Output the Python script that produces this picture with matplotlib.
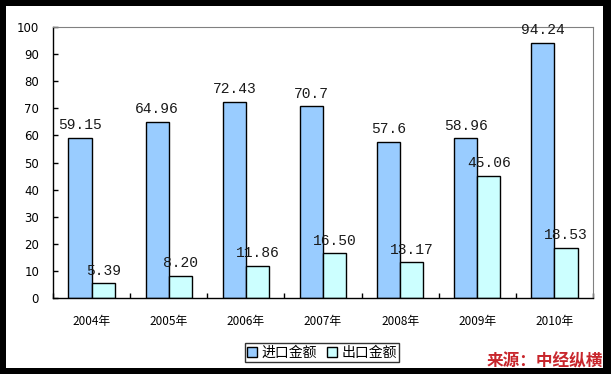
import matplotlib
matplotlib.use('Agg')
import matplotlib.pyplot as plt
from matplotlib.patches import Rectangle
import numpy as np

plt.rcParams['font.family'] = ['Noto Sans CJK SC', 'DejaVu Sans']

# ── Data ─────────────────────────────────────────────────────────────────────
years   = ['2004年', '2005年', '2006年', '2007年', '2008年', '2009年', '2010年']
imports = [59.15, 64.96, 72.43, 70.7, 57.6, 58.96, 94.24]
exports = [5.39, 8.20, 11.86, 16.50, 13.17, 45.06, 18.53]
imp_lbl = ['59.15', '64.96', '72.43', '70.7', '57.6', '58.96', '94.24']
exp_lbl = ['5.39', '8.20', '11.86', '16.50', '13.17', '45.06', '18.53']
series  = ['进口金额', '出口金额']
colors  = ['#99CCFF', '#CCFFFF']

W, H = 611, 374
fig = plt.figure(figsize=(W / 100, H / 100), dpi=100, facecolor='black')
# white canvas inside the black frame
fig.add_artist(Rectangle((6 / W, 1 - 368 / H), (603 - 6) / W, (368 - 6) / H,
                         transform=fig.transFigure, facecolor='white',
                         edgecolor='none', zorder=0))

ax = fig.add_axes([53 / W, 1 - 298 / H, (593 - 53) / W, (298 - 27) / H])
ax.set_facecolor('white')

x = np.arange(len(years))
bw = 0.30
b1 = ax.bar(x - bw / 2, imports, bw, color=colors[0], edgecolor='black',
            linewidth=1.0, label=series[0], zorder=2)
b2 = ax.bar(x + bw / 2, exports, bw, color=colors[1], edgecolor='black',
            linewidth=1.0, label=series[1], zorder=2)

for bars, labs in ((b1, imp_lbl), (b2, exp_lbl)):
    for bar, lab in zip(bars, labs):
        ax.annotate(lab, xy=(bar.get_x() + bar.get_width() / 2, bar.get_height()),
                    xytext=(0, 4), textcoords='offset points',
                    ha='center', va='bottom', fontsize=10.5,
                    family=['Liberation Mono', 'DejaVu Sans Mono'],
                    color='#1a1a1a', zorder=3)

ax.set_xlim(-0.5, len(years) - 0.5)
ax.set_ylim(0, 100)
ax.set_yticks(np.arange(0, 101, 10))
ax.set_xticks(x)
ax.set_xticklabels(years, fontsize=8.5)
ax.set_xticks(np.arange(-0.5, len(years), 1), minor=True)
ax.tick_params(axis='x', which='major', length=0, pad=12)
ax.tick_params(axis='x', which='minor', direction='in', length=3.5, width=1)
ax.tick_params(axis='y', direction='in', length=3.5, width=1, pad=10,
               labelsize=8.5)
for lab in ax.get_yticklabels():
    lab.set_family(['DejaVu Sans'])

for side in ('top', 'right'):
    ax.spines[side].set_color('#808080')
for side in ('left', 'bottom'):
    ax.spines[side].set_color('black')
    ax.spines[side].set_linewidth(1.0)

leg = fig.legend(handles=[b1, b2], labels=series, ncol=2,
                 loc='center', bbox_to_anchor=(322 / W, 1 - 352.5 / H),
                 fontsize=10, frameon=True, fancybox=False, edgecolor='black',
                 handlelength=0.7, handleheight=0.7, handletextpad=0.35,
                 columnspacing=0.7, borderpad=0.15, borderaxespad=0)
leg.get_frame().set_linewidth(1.0)

fig.text(603 / W, 1 - 361 / H, '来源：中经纵横', ha='right', va='center',
         fontsize=12, fontweight='bold', color='#C8262C', style='italic')

fig.savefig('out.png', dpi=100, facecolor='black')
